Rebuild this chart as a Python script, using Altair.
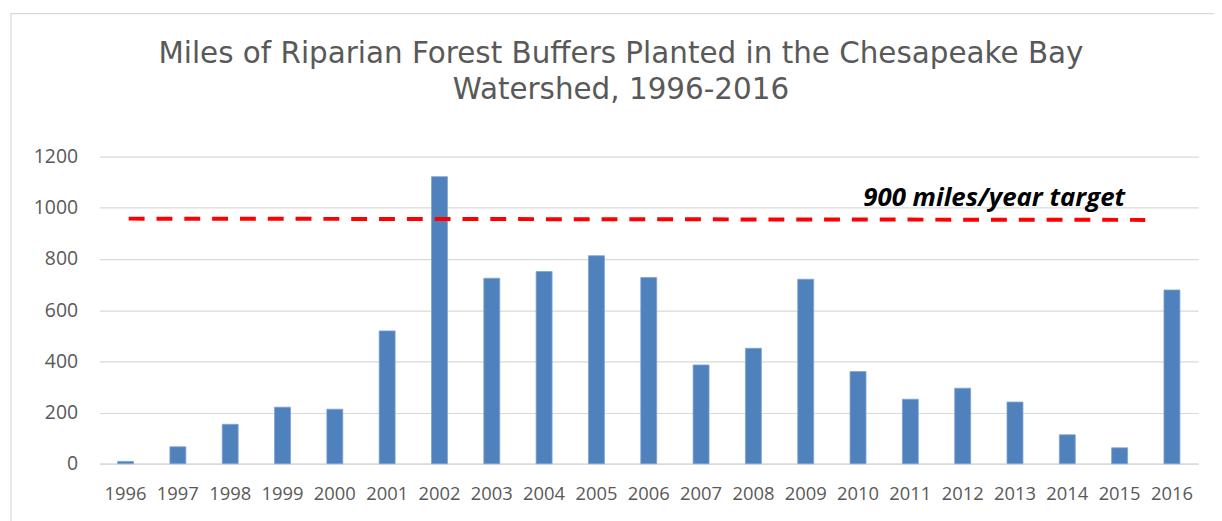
import altair as alt
import pandas as pd

# ---- data ----
years = ["1996", "1997", "1998", "1999", "2000", "2001", "2002", "2003", "2004",
         "2005", "2006", "2007", "2008", "2009", "2010", "2011", "2012", "2013",
         "2014", "2015", "2016"]
miles = [9, 66, 154, 221, 213, 519, 1122, 725, 751, 813, 728, 386, 451, 721,
         360, 252, 295, 241, 113, 62, 679]

y_ticks = [0, 200, 400, 600, 800, 1000, 1200]

title_lines = ["Miles of Riparian Forest Buffers Planted in the Chesapeake Bay",
               "Watershed, 1996-2016"]

target_start_year = ["1996"]
target_end_year = ["2015"]
target_start_value = [958]
target_end_value = [953]

annotation_year = ["2010"]
annotation_value = [1008]
annotation_text = ["900 miles/year target"]

# ---- styling ----
GRID = "#D9D9D9"
LABEL = "#595959"
BAR = "#4F81BD"
LABEL_FONT = "Open Sans"

df = pd.DataFrame({"year": years, "miles": miles})
target_df = pd.DataFrame({"x0": target_start_year, "x1": target_end_year,
                          "y0": target_start_value, "y1": target_end_value})
note_df = pd.DataFrame({"x": annotation_year, "y": annotation_value,
                        "label": annotation_text})
frame_df = pd.DataFrame({"k": [0]})

x_scale = alt.Scale(domain=years, paddingInner=0, paddingOuter=0)
y_scale = alt.Scale(domain=[0, 1200], nice=False)

frame = alt.Chart(frame_df).mark_rect(
    fill="transparent", stroke=GRID, strokeWidth=1.2
).encode(
    x=alt.value(-89), x2=alt.value(1140), y=alt.value(-144), y2=alt.value(420)
)

bars = alt.Chart(df).mark_bar(
    color=BAR, width=alt.RelativeBandSize(0.305),
    stroke="#7FA3D1", strokeWidth=0.8
).encode(
    x=alt.X("year:N", scale=x_scale, sort=None,
            axis=alt.Axis(title=None, labelAngle=0, ticks=False, domain=True,
                          domainColor=GRID, domainWidth=1.2, grid=False,
                          labelFont=LABEL_FONT, labelFontSize=18.5,
                          labelColor=LABEL, labelPadding=21)),
    y=alt.Y("miles:Q", scale=y_scale,
            axis=alt.Axis(title=None, values=y_ticks, format="d", ticks=False,
                          domain=False, grid=True, gridColor=GRID,
                          gridWidth=1.2, labelFont=LABEL_FONT,
                          labelFontSize=19.5, labelColor=LABEL,
                          labelPadding=22)),
)

target = alt.Chart(target_df).mark_rule(
    color="#FF0000", strokeWidth=4, strokeDash=[16, 12]
).encode(
    x=alt.X("x0:N", scale=x_scale, bandPosition=0.56),
    x2=alt.X2("x1:N", bandPosition=0.99),
    y=alt.Y("y0:Q", scale=y_scale),
    y2="y1:Q",
)

note = alt.Chart(note_df).mark_text(
    align="left", baseline="alphabetic", font="Open Sans", fontSize=26,
    fontWeight="bold", fontStyle="italic", color="#000000"
).encode(
    x=alt.X("x:N", scale=x_scale, bandPosition=0.6),
    y=alt.Y("y:Q", scale=y_scale),
    text="label:N",
)

chart = alt.layer(frame, bars, target, note).properties(
    width=1106,
    height=309,
    autosize=alt.AutoSizeParams(type="none"),
    padding={"left": 92, "top": 148, "right": 16, "bottom": 56},
    title=alt.Title(title_lines, font="DejaVu Sans", fontSize=29.6,
                    fontWeight="normal", color=LABEL, anchor="middle",
                    dx=-28, offset=-93, lineHeight=36),
).configure_view(stroke=None)

chart.save("out.html", embed_options={"renderer": "svg", "actions": False})
